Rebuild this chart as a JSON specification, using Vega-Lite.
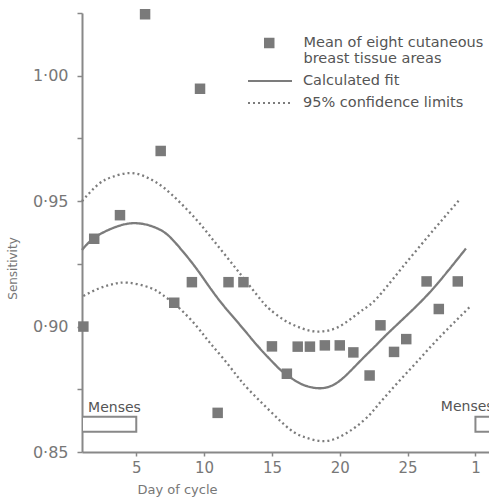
{
  "$schema": "https://vega.github.io/schema/vega-lite/v6.json",
  "autosize": {"type": "none"},
  "padding": {"left": 82, "top": 13, "right": 0, "bottom": 45},
  "width": 407,
  "height": 439,
  "background": "white",
  "config": {
    "view": {"stroke": null},
    "font": "DejaVu Sans",
    "axis": {"grid": false, "domainColor": "#888", "domainWidth": 2, "tickColor": "#888", "tickWidth": 1.5, "labelColor": "#777", "titleColor": "#777", "labelFont": "DejaVu Sans", "titleFont": "DejaVu Sans", "titleFontWeight": "normal"},
    "legend": {"labelFont": "DejaVu Sans", "labelColor": "#555", "labelFontSize": 14.5, "padding": 0}
  },
  "datasets": {
    "points": [
      {"day": 1.1, "value": 0.900, "series": "Mean of eight cutaneous"},
      {"day": 1.9, "value": 0.935, "series": "Mean of eight cutaneous"},
      {"day": 3.8, "value": 0.9444, "series": "Mean of eight cutaneous"},
      {"day": 5.65, "value": 1.0245, "series": "Mean of eight cutaneous"},
      {"day": 6.8, "value": 0.970, "series": "Mean of eight cutaneous"},
      {"day": 7.8, "value": 0.9095, "series": "Mean of eight cutaneous"},
      {"day": 9.1, "value": 0.9177, "series": "Mean of eight cutaneous"},
      {"day": 9.7, "value": 0.9948, "series": "Mean of eight cutaneous"},
      {"day": 11.0, "value": 0.8656, "series": "Mean of eight cutaneous"},
      {"day": 11.8, "value": 0.9177, "series": "Mean of eight cutaneous"},
      {"day": 12.9, "value": 0.9177, "series": "Mean of eight cutaneous"},
      {"day": 15.0, "value": 0.8921, "series": "Mean of eight cutaneous"},
      {"day": 16.1, "value": 0.8812, "series": "Mean of eight cutaneous"},
      {"day": 16.9, "value": 0.892, "series": "Mean of eight cutaneous"},
      {"day": 17.8, "value": 0.892, "series": "Mean of eight cutaneous"},
      {"day": 18.9, "value": 0.8925, "series": "Mean of eight cutaneous"},
      {"day": 20.0, "value": 0.8925, "series": "Mean of eight cutaneous"},
      {"day": 21.0, "value": 0.8897, "series": "Mean of eight cutaneous"},
      {"day": 22.2, "value": 0.8805, "series": "Mean of eight cutaneous"},
      {"day": 23.0, "value": 0.9005, "series": "Mean of eight cutaneous"},
      {"day": 24.0, "value": 0.8899, "series": "Mean of eight cutaneous"},
      {"day": 24.9, "value": 0.895, "series": "Mean of eight cutaneous"},
      {"day": 26.4, "value": 0.918, "series": "Mean of eight cutaneous"},
      {"day": 27.3, "value": 0.907, "series": "Mean of eight cutaneous"},
      {"day": 28.7, "value": 0.918, "series": "Mean of eight cutaneous"}
    ],
    "curves": [
      {"curve": "fit", "series": "Calculated fit", "day": 1.0, "value": 0.9305},
      {"curve": "fit", "series": "Calculated fit", "day": 1.5, "value": 0.9335},
      {"curve": "fit", "series": "Calculated fit", "day": 2.2, "value": 0.9364},
      {"curve": "fit", "series": "Calculated fit", "day": 3.2, "value": 0.9391},
      {"curve": "fit", "series": "Calculated fit", "day": 4.5, "value": 0.9411},
      {"curve": "fit", "series": "Calculated fit", "day": 5.77, "value": 0.9406},
      {"curve": "fit", "series": "Calculated fit", "day": 6.75, "value": 0.9386},
      {"curve": "fit", "series": "Calculated fit", "day": 7.5, "value": 0.9356},
      {"curve": "fit", "series": "Calculated fit", "day": 8.47, "value": 0.9297},
      {"curve": "fit", "series": "Calculated fit", "day": 9.45, "value": 0.9230},
      {"curve": "fit", "series": "Calculated fit", "day": 10.43, "value": 0.9155},
      {"curve": "fit", "series": "Calculated fit", "day": 11.41, "value": 0.9085},
      {"curve": "fit", "series": "Calculated fit", "day": 12.4, "value": 0.9022},
      {"curve": "fit", "series": "Calculated fit", "day": 13.38, "value": 0.8959},
      {"curve": "fit", "series": "Calculated fit", "day": 14.36, "value": 0.8898},
      {"curve": "fit", "series": "Calculated fit", "day": 15.35, "value": 0.8842},
      {"curve": "fit", "series": "Calculated fit", "day": 15.84, "value": 0.8818},
      {"curve": "fit", "series": "Calculated fit", "day": 16.82, "value": 0.8781},
      {"curve": "fit", "series": "Calculated fit", "day": 17.81, "value": 0.8759},
      {"curve": "fit", "series": "Calculated fit", "day": 18.79, "value": 0.8755},
      {"curve": "fit", "series": "Calculated fit", "day": 19.77, "value": 0.8775},
      {"curve": "fit", "series": "Calculated fit", "day": 20.75, "value": 0.8821},
      {"curve": "fit", "series": "Calculated fit", "day": 21.73, "value": 0.8875},
      {"curve": "fit", "series": "Calculated fit", "day": 22.72, "value": 0.8928},
      {"curve": "fit", "series": "Calculated fit", "day": 23.7, "value": 0.8981},
      {"curve": "fit", "series": "Calculated fit", "day": 25.9, "value": 0.9095},
      {"curve": "fit", "series": "Calculated fit", "day": 27.6, "value": 0.9197},
      {"curve": "fit", "series": "Calculated fit", "day": 29.3, "value": 0.9311},
      {"curve": "upper", "series": "95% confidence limits", "day": 1.0, "value": 0.9500},
      {"curve": "upper", "series": "95% confidence limits", "day": 2.2, "value": 0.9567},
      {"curve": "upper", "series": "95% confidence limits", "day": 3.2, "value": 0.9596},
      {"curve": "upper", "series": "95% confidence limits", "day": 4.5, "value": 0.9612},
      {"curve": "upper", "series": "95% confidence limits", "day": 5.77, "value": 0.9595},
      {"curve": "upper", "series": "95% confidence limits", "day": 6.99, "value": 0.9555},
      {"curve": "upper", "series": "95% confidence limits", "day": 8.22, "value": 0.9495},
      {"curve": "upper", "series": "95% confidence limits", "day": 9.45, "value": 0.9425},
      {"curve": "upper", "series": "95% confidence limits", "day": 10.43, "value": 0.9361},
      {"curve": "upper", "series": "95% confidence limits", "day": 11.41, "value": 0.9295},
      {"curve": "upper", "series": "95% confidence limits", "day": 12.4, "value": 0.9228},
      {"curve": "upper", "series": "95% confidence limits", "day": 13.38, "value": 0.9161},
      {"curve": "upper", "series": "95% confidence limits", "day": 14.36, "value": 0.9095},
      {"curve": "upper", "series": "95% confidence limits", "day": 14.86, "value": 0.9068},
      {"curve": "upper", "series": "95% confidence limits", "day": 15.84, "value": 0.9028},
      {"curve": "upper", "series": "95% confidence limits", "day": 16.82, "value": 0.9001},
      {"curve": "upper", "series": "95% confidence limits", "day": 17.81, "value": 0.8983},
      {"curve": "upper", "series": "95% confidence limits", "day": 18.79, "value": 0.8981},
      {"curve": "upper", "series": "95% confidence limits", "day": 19.77, "value": 0.8995},
      {"curve": "upper", "series": "95% confidence limits", "day": 20.75, "value": 0.9028},
      {"curve": "upper", "series": "95% confidence limits", "day": 21.73, "value": 0.9068},
      {"curve": "upper", "series": "95% confidence limits", "day": 22.72, "value": 0.9112},
      {"curve": "upper", "series": "95% confidence limits", "day": 24.6, "value": 0.9235},
      {"curve": "upper", "series": "95% confidence limits", "day": 27.1, "value": 0.9397},
      {"curve": "upper", "series": "95% confidence limits", "day": 28.8, "value": 0.9504},
      {"curve": "lower", "series": "95% confidence limits", "day": 1.1, "value": 0.9122},
      {"curve": "lower", "series": "95% confidence limits", "day": 2.2, "value": 0.9151},
      {"curve": "lower", "series": "95% confidence limits", "day": 3.2, "value": 0.9168},
      {"curve": "lower", "series": "95% confidence limits", "day": 4.4, "value": 0.9175},
      {"curve": "lower", "series": "95% confidence limits", "day": 6.0, "value": 0.9155},
      {"curve": "lower", "series": "95% confidence limits", "day": 6.9, "value": 0.9128},
      {"curve": "lower", "series": "95% confidence limits", "day": 8.1, "value": 0.9077},
      {"curve": "lower", "series": "95% confidence limits", "day": 9.45, "value": 0.9001},
      {"curve": "lower", "series": "95% confidence limits", "day": 10.43, "value": 0.8935},
      {"curve": "lower", "series": "95% confidence limits", "day": 11.41, "value": 0.8873},
      {"curve": "lower", "series": "95% confidence limits", "day": 12.4, "value": 0.8805},
      {"curve": "lower", "series": "95% confidence limits", "day": 13.3, "value": 0.8748},
      {"curve": "lower", "series": "95% confidence limits", "day": 14.85, "value": 0.8664},
      {"curve": "lower", "series": "95% confidence limits", "day": 16.33, "value": 0.8590},
      {"curve": "lower", "series": "95% confidence limits", "day": 17.31, "value": 0.8561},
      {"curve": "lower", "series": "95% confidence limits", "day": 18.3, "value": 0.8546},
      {"curve": "lower", "series": "95% confidence limits", "day": 19.28, "value": 0.8546},
      {"curve": "lower", "series": "95% confidence limits", "day": 20.26, "value": 0.8568},
      {"curve": "lower", "series": "95% confidence limits", "day": 21.25, "value": 0.8603},
      {"curve": "lower", "series": "95% confidence limits", "day": 22.23, "value": 0.8650},
      {"curve": "lower", "series": "95% confidence limits", "day": 22.97, "value": 0.8697},
      {"curve": "lower", "series": "95% confidence limits", "day": 24.4, "value": 0.8784},
      {"curve": "lower", "series": "95% confidence limits", "day": 25.9, "value": 0.8872},
      {"curve": "lower", "series": "95% confidence limits", "day": 27.35, "value": 0.8957},
      {"curve": "lower", "series": "95% confidence limits", "day": 29.56, "value": 0.9077}
    ],
    "menses": [
      {"start": 1, "end": 5, "lo": 0.8581, "hi": 0.8641, "labelDay": 1.45, "labelValue": 0.8676, "label": "Menses"},
      {"start": 30, "end": 34, "lo": 0.8581, "hi": 0.8641, "labelDay": 27.45, "labelValue": 0.868, "label": "Menses"}
    ]
  },
  "layer": [
    {
      "data": {"name": "menses"},
      "mark": {"type": "rect", "fill": "white", "stroke": "#888", "strokeWidth": 2, "clip": true},
      "encoding": {
        "x": {"field": "start", "type": "quantitative", "scale": {"domain": [1, 31], "nice": false, "zero": false}},
        "x2": {"field": "end"},
        "y": {"field": "lo", "type": "quantitative", "scale": {"domain": [0.85, 1.025], "nice": false, "zero": false}},
        "y2": {"field": "hi"}
      }
    },
    {
      "data": {"name": "menses"},
      "mark": {"type": "text", "align": "left", "baseline": "middle", "fontSize": 14, "color": "#555", "clip": true},
      "encoding": {
        "x": {"field": "labelDay", "type": "quantitative"},
        "y": {"field": "labelValue", "type": "quantitative"},
        "text": {"field": "label"}
      }
    },
    {
      "data": {"name": "curves"},
      "mark": {"type": "line", "color": "#7c7c7c", "strokeWidth": 2.3, "interpolate": "natural"},
      "encoding": {
        "x": {"field": "day", "type": "quantitative"},
        "y": {"field": "value", "type": "quantitative"},
        "detail": {"field": "curve"},
        "strokeDash": {
          "field": "series", "type": "nominal",
          "scale": {"domain": ["Calculated fit", "95% confidence limits"], "range": [[1, 0], [2, 3]]},
          "legend": {"title": null, "orient": "none", "legendX": 165, "legendY": 58, "symbolType": "stroke", "symbolSize": 1936, "symbolStrokeWidth": 2, "symbolStrokeColor": "#7c7c7c", "clipHeight": 20, "rowPadding": 2, "labelOffset": 10, "labelLimit": 300}
        }
      }
    },
    {
      "data": {"name": "points"},
      "mark": {"type": "point", "filled": true, "opacity": 1, "size": 110, "color": "#7a7a7a"},
      "encoding": {
        "x": {"field": "day", "type": "quantitative", "axis": {"values": [5, 10, 15, 20, 25, 30], "labelExpr": "datum.value == 30 ? '1' : datum.label", "tickSize": 4, "labelFontSize": 15, "labelPadding": 4, "title": "Day of cycle", "titleFontSize": 13, "titleX": 95, "titleY": 37, "titleAlign": "center", "titleBaseline": "middle"}},
        "y": {"field": "value", "type": "quantitative", "axis": {"values": [0.85, 0.875, 0.9, 0.925, 0.95, 0.975, 1.0, 1.025], "labelExpr": "round(datum.value * 1000) % 50 == 0 ? replace(format(datum.value, '.2f'), '.', '·') : ''", "tickSize": 5, "labelFontSize": 16, "labelPadding": 9, "title": "Sensitivity", "titleFontSize": 12, "titleX": -70, "titleY": 255, "titleAlign": "center", "titleBaseline": "middle"}},
        "shape": {
          "field": "series", "type": "nominal",
          "scale": {"domain": ["Mean of eight cutaneous", "breast tissue areas"], "range": ["square", "M0,0"]},
          "legend": {"title": null, "orient": "none", "legendX": 180, "legendY": 22, "symbolSize": 110, "symbolFillColor": "#7a7a7a", "symbolStrokeWidth": 0, "clipHeight": 16, "rowPadding": 0, "labelOffset": 27, "labelLimit": 300}
        }
      }
    }
  ]
}
